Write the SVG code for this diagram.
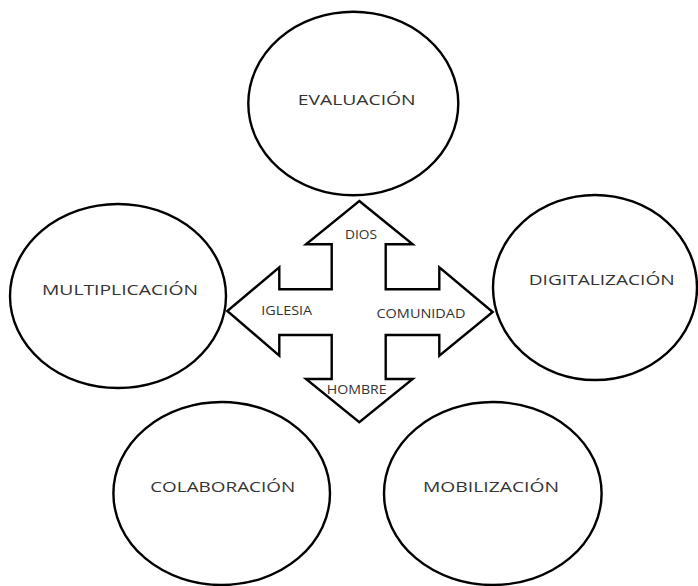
<svg xmlns="http://www.w3.org/2000/svg" width="698" height="586" viewBox="0 0 698 586">
<style>
.node ellipse{fill:#fff;stroke:#000;stroke-width:2.4}
.lbl{font-family:"Open Sans","DejaVu Sans",sans-serif;font-size:14px;fill:#333;text-anchor:middle}
.sm{font-size:12px}
.arrow{fill:#fff;stroke:#000;stroke-width:2.4;stroke-linejoin:miter}
</style>
<rect width="698" height="586" fill="#fff"/>
<g id="evaluacion" class="node">
<ellipse cx="353.3" cy="103.5" rx="105" ry="91.8"/>
<text class="lbl" x="356.7" y="105" textLength="118" lengthAdjust="spacingAndGlyphs">EVALUACIÓN</text>
</g>
<g id="multiplicacion" class="node">
<ellipse cx="118" cy="296" rx="108" ry="92"/>
<text class="lbl" x="120" y="295" textLength="156" lengthAdjust="spacingAndGlyphs">MULTIPLICACIÓN</text>
</g>
<g id="digitalizacion" class="node">
<ellipse cx="595" cy="287.5" rx="102" ry="92.5"/>
<text class="lbl" x="601.7" y="285" textLength="146" lengthAdjust="spacingAndGlyphs">DIGITALIZACIÓN</text>
</g>
<g id="colaboracion" class="node">
<ellipse cx="221.7" cy="493.5" rx="108.3" ry="91.5"/>
<text class="lbl" x="222.7" y="491.5" textLength="145" lengthAdjust="spacingAndGlyphs">COLABORACIÓN</text>
</g>
<g id="mobilizacion" class="node">
<ellipse cx="492.8" cy="493.5" rx="108.8" ry="91.5"/>
<text class="lbl" x="491" y="491.5" textLength="136" lengthAdjust="spacingAndGlyphs">MOBILIZACIÓN</text>
</g>
<g id="connectors">
<path class="arrow" d="M359.3,201 L412.7,244.3 L385.7,244.3 L385.7,289.3 L439.3,289.3 L439.3,267.3 L492.7,312 L439.3,355.7 L439.3,335 L385.7,335 L385.7,379 L412.7,379 L359.3,422.3 L306,379 L331.7,379 L331.7,335 L279.3,335 L279.3,355.7 L227.3,311 L279.3,267.3 L279.3,289.3 L331.7,289.3 L331.7,244.3 L306,244.3 Z"/>
<text class="lbl sm" x="361" y="238.5" textLength="32" lengthAdjust="spacingAndGlyphs">DIOS</text>
<text class="lbl sm" x="286.7" y="314.5" textLength="51" lengthAdjust="spacingAndGlyphs">IGLESIA</text>
<text class="lbl sm" x="421" y="318" textLength="89" lengthAdjust="spacingAndGlyphs">COMUNIDAD</text>
<text class="lbl sm" x="356.7" y="393.8" textLength="60" lengthAdjust="spacingAndGlyphs">HOMBRE</text>
</g>
</svg>
